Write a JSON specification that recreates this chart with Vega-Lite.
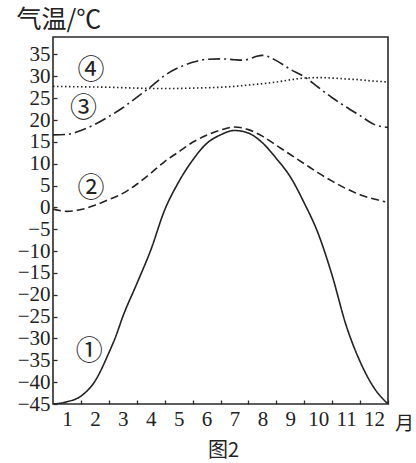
{
  "$schema": "https://vega.github.io/schema/vega-lite/v6.json",
  "width": 335,
  "height": 367,
  "autosize": "none",
  "padding": {"left": 53, "top": 37, "right": 28, "bottom": 59},
  "background": "white",
  "config": {
    "view": {"stroke": "#2a2a2a", "strokeWidth": 1.6}
  },
  "title": {"text": "图2", "orient": "bottom", "font": "Noto Sans CJK SC", "fontSize": 20, "fontWeight": "normal", "color": "#222", "offset": 8, "dx": 3},
  "datasets": {
    "series": [
      {"s": "1", "m": 0.5, "t": -45}, {"s": "1", "m": 1.0, "t": -44.5}, {"s": "1", "m": 1.5, "t": -43.2}, {"s": "1", "m": 2.0, "t": -39.8}, {"s": "1", "m": 2.5, "t": -33.3}, {"s": "1", "m": 2.75, "t": -29.5}, {"s": "1", "m": 3.0, "t": -25}, {"s": "1", "m": 3.5, "t": -17.5}, {"s": "1", "m": 4.0, "t": -9.8}, {"s": "1", "m": 4.5, "t": -0.6}, {"s": "1", "m": 5.0, "t": 5.8}, {"s": "1", "m": 5.5, "t": 10.8}, {"s": "1", "m": 6.0, "t": 14.6}, {"s": "1", "m": 6.5, "t": 16.6}, {"s": "1", "m": 7.0, "t": 17.6}, {"s": "1", "m": 7.5, "t": 17.0}, {"s": "1", "m": 8.0, "t": 14.8}, {"s": "1", "m": 8.5, "t": 11.2}, {"s": "1", "m": 9.0, "t": 7}, {"s": "1", "m": 9.5, "t": 1.0}, {"s": "1", "m": 10.0, "t": -6}, {"s": "1", "m": 10.5, "t": -15.6}, {"s": "1", "m": 11.0, "t": -27}, {"s": "1", "m": 11.5, "t": -35.3}, {"s": "1", "m": 12.0, "t": -41.3}, {"s": "1", "m": 12.5, "t": -45},
      {"s": "2", "m": 0.5, "t": -0.4}, {"s": "2", "m": 1.0, "t": -0.9}, {"s": "2", "m": 1.5, "t": -0.5}, {"s": "2", "m": 2.0, "t": 0.5}, {"s": "2", "m": 2.5, "t": 1.8}, {"s": "2", "m": 3.0, "t": 3.2}, {"s": "2", "m": 3.5, "t": 5.3}, {"s": "2", "m": 4.0, "t": 7.8}, {"s": "2", "m": 4.5, "t": 10.5}, {"s": "2", "m": 5.0, "t": 12.7}, {"s": "2", "m": 5.5, "t": 14.9}, {"s": "2", "m": 6.0, "t": 16.5}, {"s": "2", "m": 6.5, "t": 17.7}, {"s": "2", "m": 7.0, "t": 18.4}, {"s": "2", "m": 7.5, "t": 17.8}, {"s": "2", "m": 8.0, "t": 16.3}, {"s": "2", "m": 8.5, "t": 14.2}, {"s": "2", "m": 9.0, "t": 12.1}, {"s": "2", "m": 9.5, "t": 10.0}, {"s": "2", "m": 10.0, "t": 7.9}, {"s": "2", "m": 10.5, "t": 6.0}, {"s": "2", "m": 11.0, "t": 4.3}, {"s": "2", "m": 11.5, "t": 2.9}, {"s": "2", "m": 12.0, "t": 1.9}, {"s": "2", "m": 12.4, "t": 1.3},
      {"s": "3", "m": 0.5, "t": 16.6}, {"s": "3", "m": 1.0, "t": 16.7}, {"s": "3", "m": 1.5, "t": 17.6}, {"s": "3", "m": 2.0, "t": 19.0}, {"s": "3", "m": 2.5, "t": 20.8}, {"s": "3", "m": 3.0, "t": 22.8}, {"s": "3", "m": 3.5, "t": 25.2}, {"s": "3", "m": 4.0, "t": 27.6}, {"s": "3", "m": 4.5, "t": 30.2}, {"s": "3", "m": 5.0, "t": 32.0}, {"s": "3", "m": 5.5, "t": 33.2}, {"s": "3", "m": 6.0, "t": 33.9}, {"s": "3", "m": 6.5, "t": 34.0}, {"s": "3", "m": 7.0, "t": 33.8}, {"s": "3", "m": 7.25, "t": 33.7}, {"s": "3", "m": 7.5, "t": 33.9}, {"s": "3", "m": 7.8, "t": 34.6}, {"s": "3", "m": 8.0, "t": 34.8}, {"s": "3", "m": 8.5, "t": 33.6}, {"s": "3", "m": 9.0, "t": 31.6}, {"s": "3", "m": 9.5, "t": 29.9}, {"s": "3", "m": 10.0, "t": 27.5}, {"s": "3", "m": 10.5, "t": 25.1}, {"s": "3", "m": 11.0, "t": 23.0}, {"s": "3", "m": 11.5, "t": 21.0}, {"s": "3", "m": 12.0, "t": 19.0}, {"s": "3", "m": 12.5, "t": 18.3},
      {"s": "4", "m": 0.5, "t": 27.7}, {"s": "4", "m": 1.5, "t": 27.6}, {"s": "4", "m": 2.5, "t": 27.5}, {"s": "4", "m": 3.5, "t": 27.3}, {"s": "4", "m": 4.5, "t": 27.2}, {"s": "4", "m": 5.5, "t": 27.3}, {"s": "4", "m": 6.5, "t": 27.5}, {"s": "4", "m": 7.0, "t": 27.7}, {"s": "4", "m": 7.5, "t": 28.0}, {"s": "4", "m": 8.0, "t": 28.3}, {"s": "4", "m": 8.5, "t": 28.7}, {"s": "4", "m": 9.0, "t": 29.2}, {"s": "4", "m": 9.5, "t": 29.6}, {"s": "4", "m": 10.0, "t": 29.7}, {"s": "4", "m": 10.5, "t": 29.6}, {"s": "4", "m": 11.0, "t": 29.4}, {"s": "4", "m": 11.5, "t": 29.2}, {"s": "4", "m": 12.0, "t": 28.9}, {"s": "4", "m": 12.5, "t": 28.7}
    ],
    "labels": [
      {"label": "①", "m": 1.8, "t": -33.1},
      {"label": "②", "m": 1.86, "t": 4.3},
      {"label": "③", "m": 1.59, "t": 22.6},
      {"label": "④", "m": 1.86, "t": 31.2}
    ]
  },
  "encoding": {
    "x": {"field": "m", "type": "quantitative", "scale": {"domain": [0.5, 12.5], "nice": false, "zero": false},
      "axis": {"values": [1, 2, 3, 4, 5, 6, 7, 8, 9, 10, 11, 12], "grid": false, "domain": false, "labelColor": "#222", "tickColor": "#2a2a2a", "tickWidth": 1.3, "labelFont": "Liberation Serif, DejaVu Serif, serif", "labelFontSize": 21, "labelOverlap": false, "labelBound": false, "labelFlush": false, "tickSize": -4, "tickOffset": 13.96, "labelOffset": -13.96, "labelPadding": 8, "title": "月", "titleColor": "#222", "titleFont": "Noto Sans CJK SC", "titleFontSize": 19, "titleFontWeight": "normal", "titleAnchor": "start", "titleAlign": "center", "titleBaseline": "middle", "titleX": 351, "titleY": 19, "titleAngle": 0}},
    "y": {"field": "t", "type": "quantitative", "scale": {"domain": [-45, 39], "nice": false, "zero": false},
      "axis": {"values": [-45, -40, -35, -30, -25, -20, -15, -10, -5, 0, 5, 10, 15, 20, 25, 30, 35], "grid": false, "domain": false, "labelColor": "#222", "tickColor": "#2a2a2a", "tickWidth": 1.3, "labelFont": "Liberation Serif, DejaVu Serif, serif", "labelFontSize": 21, "labelOverlap": false, "labelBound": false, "labelFlush": false, "tickSize": -4, "labelPadding": 7, "title": "气温/℃", "titleColor": "#222", "titleFont": "Noto Sans CJK SC", "titleFontSize": 25, "titleFontWeight": "normal", "titleAngle": 0, "titleAlign": "left", "titleBaseline": "middle", "titleAnchor": "start", "titleX": -37, "titleY": -18}}
  },
  "layer": [
    {
      "data": {"name": "series"},
      "mark": {"type": "line", "interpolate": "monotone", "color": "#222", "strokeCap": "butt", "clip": true},
      "encoding": {
        "detail": {"field": "s"},
        "strokeDash": {"field": "s", "type": "nominal", "scale": {"domain": ["1", "2", "3", "4"], "range": [[1, 0], [8, 4], [12, 4, 2, 4], [1.5, 2.5]]}, "legend": null},
        "strokeWidth": {"field": "s", "type": "nominal", "scale": {"domain": ["1", "2", "3", "4"], "range": [1.6, 1.6, 1.5, 1.2]}, "legend": null}
      }
    },
    {
      "data": {"name": "labels"},
      "mark": {"type": "text", "font": "Noto Sans CJK SC", "fontSize": 27, "color": "#222", "align": "center", "baseline": "middle"},
      "encoding": {
        "text": {"field": "label"}
      }
    }
  ]
}
